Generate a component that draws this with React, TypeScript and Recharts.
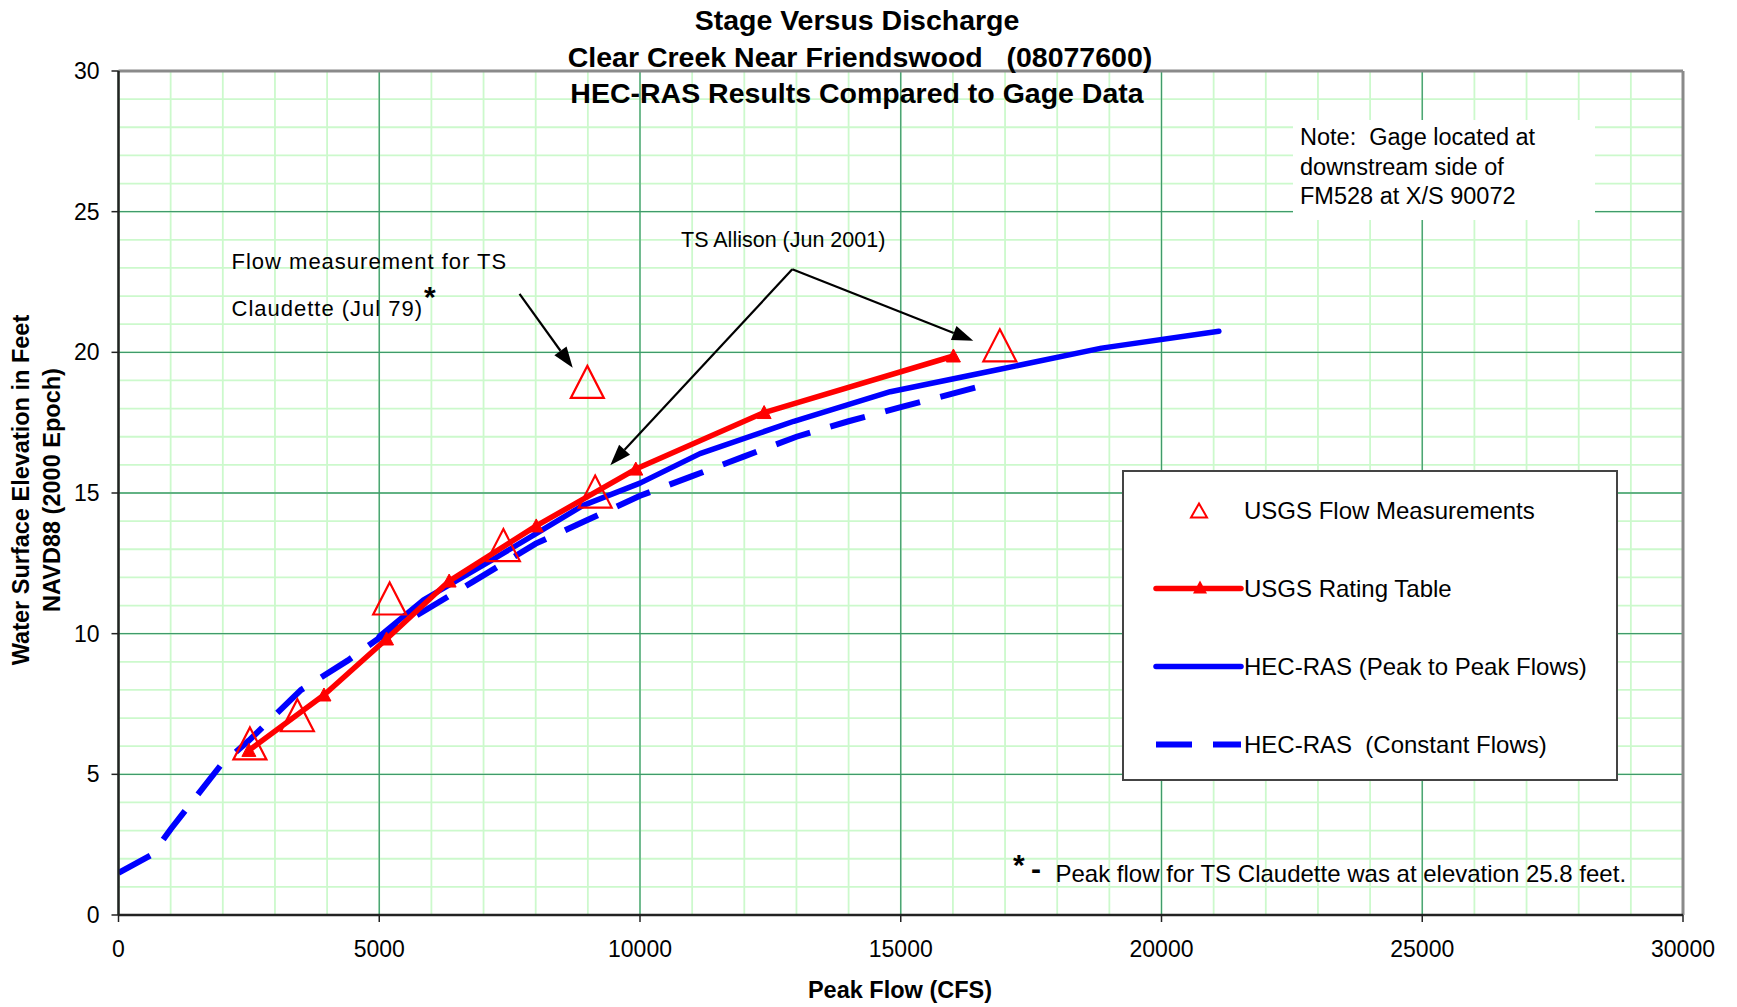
import React from 'react';
import { ComposedChart, Line, Scatter, XAxis, YAxis, CartesianGrid, ReferenceLine, Legend } from 'recharts';

const FONT = '"Liberation Sans", Arial, Helvetica, sans-serif';

const X_TICKS = [0, 5000, 10000, 15000, 20000, 25000, 30000];
const Y_TICKS = [0, 5, 10, 15, 20, 25, 30];
const X_MINOR = Array.from({ length: 31 }, (_, i) => i * 1000);
const Y_MINOR = Array.from({ length: 31 }, (_, i) => i);

// USGS flow measurements (hollow triangles)
const MEAS_FLOW = [2520, 3430, 5200, 7380, 9140, 8990, 16900];
const MEAS_STAGE = [6.1, 7.1, 11.25, 13.15, 15.05, 18.95, 20.25];

// USGS rating table
const RATING_FLOW = [2500, 3940, 5140, 6340, 8010, 9920, 12380, 16010];
const RATING_STAGE = [5.85, 7.82, 9.81, 11.87, 13.83, 15.85, 17.86, 19.87];

// HEC-RAS peak to peak flows
const PEAK_FLOW = [5000, 5850, 7100, 8000, 8900, 10000, 11150, 12950, 14800, 16900, 18850, 21100];
const PEAK_STAGE = [9.9, 11.2, 12.55, 13.55, 14.55, 15.35, 16.4, 17.55, 18.6, 19.4, 20.15, 20.75];

// HEC-RAS constant flows
const CONST_FLOW = [0, 300, 650, 1000, 1950, 2500, 3500, 4400, 5000, 5900, 6800, 8000, 9000, 10000, 11000, 12000, 13000, 14000, 15000, 16750];
const CONST_STAGE = [1.5, 1.8, 2.15, 3.05, 5.3, 6.2, 8.0, 9.05, 9.85, 10.85, 11.85, 13.2, 14.05, 14.9, 15.6, 16.3, 17.0, 17.55, 18.05, 18.9];

// annotation arrows, in data units (flow, stage)
const ARROWS = [
  { from: [7690, 22.08], to: [8710, 19.45] },
  { from: [12920, 22.95], to: [9430, 15.99] },
  { from: [12920, 22.95], to: [16390, 20.41] },
];

const LEGEND_ITEMS = [
  'USGS Flow Measurements',
  'USGS Rating Table',
  'HEC-RAS (Peak to Peak Flows)',
  'HEC-RAS  (Constant Flows)',
];

const zip = (xs: number[], ys: number[]) => xs.map((x, i) => ({ x, y: ys[i] }));

const measData = zip(MEAS_FLOW, MEAS_STAGE);
const ratingData = zip(RATING_FLOW, RATING_STAGE);
const peakData = zip(PEAK_FLOW, PEAK_STAGE);
const constData = zip(CONST_FLOW, CONST_STAGE);

const HollowTriangle = (props: any) => {
  const { cx, cy } = props;
  if (cx == null || cy == null) return null;
  return (
    <polygon
      points={`${cx},${cy - 16} ${cx + 16.5},${cy + 16} ${cx - 16.5},${cy + 16}`}
      fill="none"
      stroke="#ff0000"
      strokeWidth={2.2}
    />
  );
};

const FilledTriangle = (props: any) => {
  const { cx, cy, index } = props;
  if (cx == null || cy == null) return <g key={`rt-${index}`} />;
  return (
    <polygon
      key={`rt-${index}`}
      points={`${cx},${cy - 7} ${cx + 7},${cy + 6} ${cx - 7},${cy + 6}`}
      fill="#ff0000"
      stroke="#ff0000"
      strokeWidth={1}
    />
  );
};

const Arrow = (props: any) => {
  const { x1, y1, x2, y2 } = props;
  const ang = Math.atan2(y2 - y1, x2 - x1);
  const len = 21;
  const half = 7.5;
  const bx = x2 - len * Math.cos(ang);
  const by = y2 - len * Math.sin(ang);
  const p1x = bx + half * Math.sin(ang);
  const p1y = by - half * Math.cos(ang);
  const p2x = bx - half * Math.sin(ang);
  const p2y = by + half * Math.cos(ang);
  return (
    <g>
      <line x1={x1} y1={y1} x2={bx} y2={by} stroke="#000" strokeWidth={2.2} />
      <polygon points={`${x2},${y2} ${p1x},${p1y} ${p2x},${p2y}`} fill="#000" />
    </g>
  );
};

const renderLegend = () => {
  const rows = [38.5, 116.5, 194.5, 272.5];
  return (
    <div style={{ width: 496, height: 311, border: '2px solid #444', background: '#fff', boxSizing: 'border-box' }}>
      <svg width={492} height={307} style={{ display: 'block', fontFamily: FONT }}>
        <polygon
          points={`${75},${rows[0] - 7} ${83},${rows[0] + 7} ${67},${rows[0] + 7}`}
          fill="none"
          stroke="#ff0000"
          strokeWidth={2}
        />
        <line x1={32} x2={117} y1={rows[1]} y2={rows[1]} stroke="#ff0000" strokeWidth={5.5} strokeLinecap="round" />
        <polygon points={`${76},${rows[1] - 8} ${83},${rows[1] + 5} ${69},${rows[1] + 5}`} fill="#ff0000" />
        <line x1={32} x2={117} y1={rows[2]} y2={rows[2]} stroke="#0000ff" strokeWidth={5.5} strokeLinecap="round" />
        <line x1={32} x2={117} y1={rows[3]} y2={rows[3]} stroke="#0000ff" strokeWidth={6} strokeDasharray="36 21" />
        {LEGEND_ITEMS.map((name, i) => (
          <text key={name} x={120} y={rows[i]} dy="0.36em" fontSize={24} fill="#000" xmlSpace="preserve" style={{ whiteSpace: 'pre' }}>
            {name}
          </text>
        ))}
      </svg>
    </div>
  );
};

export default function App() {
  const axisTick = { fill: '#000', fontSize: 23, fontFamily: FONT };
  const pre = { whiteSpace: 'pre' as const };
  return (
    <div style={{ position: 'absolute', left: 0, top: 0, width: 1737, height: 1007, background: '#fff', fontFamily: FONT }}>
      <ComposedChart width={1737} height={1007} margin={{ top: 71, right: 54, bottom: 32, left: 18.5 }}>
        <CartesianGrid verticalValues={X_MINOR} horizontalValues={Y_MINOR} stroke="#ccf9cc" strokeWidth={1.8} />
        <CartesianGrid verticalValues={X_TICKS} horizontalValues={Y_TICKS} stroke="#3f9a6c" strokeWidth={1.3} />
        <XAxis
          type="number"
          dataKey="x"
          domain={[0, 30000]}
          ticks={X_TICKS}
          height={60}
          tickSize={7}
          tickMargin={19}
          tick={axisTick}
          axisLine={{ stroke: '#222', strokeWidth: 2.5 }}
          tickLine={{ stroke: '#222', strokeWidth: 1.5 }}
          allowDataOverflow
        />
        <YAxis
          type="number"
          dataKey="y"
          domain={[0, 30]}
          ticks={Y_TICKS}
          width={100}
          tickSize={7}
          tickMargin={12}
          tick={axisTick}
          axisLine={{ stroke: '#222', strokeWidth: 2.5 }}
          tickLine={{ stroke: '#222', strokeWidth: 1.5 }}
          allowDataOverflow
        />
        <ReferenceLine y={30} stroke="#8a8a8a" strokeWidth={3} />
        <ReferenceLine x={30000} stroke="#8a8a8a" strokeWidth={3} />
        <Line
          data={constData}
          dataKey="y"
          type="linear"
          stroke="#0000ff"
          strokeWidth={6}
          strokeDasharray="36 21"
          dot={false}
          activeDot={false}
          isAnimationActive={false}
        />
        <Line
          data={peakData}
          dataKey="y"
          type="linear"
          stroke="#0000ff"
          strokeWidth={5.5}
          strokeLinejoin="round"
          strokeLinecap="round"
          dot={false}
          activeDot={false}
          isAnimationActive={false}
        />
        <Line
          data={ratingData}
          dataKey="y"
          type="linear"
          stroke="#ff0000"
          strokeWidth={5.5}
          strokeLinejoin="round"
          strokeLinecap="round"
          dot={FilledTriangle}
          activeDot={false}
          isAnimationActive={false}
        />
        <Scatter data={measData} shape={HollowTriangle} isAnimationActive={false} />
        {ARROWS.map((a, i) => (
          <ReferenceLine
            key={`arrow-${i}`}
            segment={[
              { x: a.from[0], y: a.from[1] },
              { x: a.to[0], y: a.to[1] },
            ]}
            shape={Arrow}
          />
        ))}
        <Legend
          layout="vertical"
          align="center"
          verticalAlign="middle"
          content={renderLegend}
          wrapperStyle={{ left: 1122, top: 470, width: 496, height: 311 }}
        />
      </ComposedChart>
      <svg
        width={1737}
        height={1007}
        style={{ position: 'absolute', left: 0, top: 0, pointerEvents: 'none', fontFamily: FONT }}
      >
        <g fontWeight="bold" fontSize={28.5} textAnchor="middle" fill="#000">
          <text x={857} y={30}>Stage Versus Discharge</text>
          <text x={860} y={67} xmlSpace="preserve" style={pre}>
            {'Clear Creek Near Friendswood   (08077600)'}
          </text>
          <text x={857} y={103}>HEC-RAS Results Compared to Gage Data</text>
        </g>
        <text x={900} y={998} textAnchor="middle" fontWeight="bold" fontSize={23.5}>
          Peak Flow (CFS)
        </text>
        <g transform="rotate(-90, 0, 0)" fontWeight="bold" fontSize={23.5} textAnchor="middle">
          <text x={-490} y={21} dy="0.36em">Water Surface Elevation in Feet</text>
          <text x={-490} y={52} dy="0.36em">NAVD88 (2000 Epoch)</text>
        </g>
        <g fontSize={22} letterSpacing={1} fill="#000">
          <text x={231.5} y={268.5}>Flow measurement for TS</text>
          <text x={231.5} y={316}>Claudette (Jul 79)</text>
        </g>
        <text x={424} y={307} fontSize={30} fontWeight="bold">*</text>
        <text x={681} y={247} fontSize={21.5}>TS Allison (Jun 2001)</text>
        <rect x={1293} y={120} width={302} height={100} fill="#fff" />
        <g fontSize={23.5} fill="#000">
          <text x={1300} y={145} xmlSpace="preserve" style={pre}>{'Note:  Gage located at'}</text>
          <text x={1300} y={175}>downstream side of</text>
          <text x={1300} y={203.5}>FM528 at X/S 90072</text>
        </g>
        <text x={1013} y={875} fontSize={30} fontWeight="bold">*</text>
        <text x={1031} y={879} fontSize={30} fontWeight="bold">-</text>
        <text x={1055.5} y={881.5} fontSize={24}>Peak flow for TS Claudette was at elevation 25.8 feet.</text>
      </svg>
    </div>
  );
}
